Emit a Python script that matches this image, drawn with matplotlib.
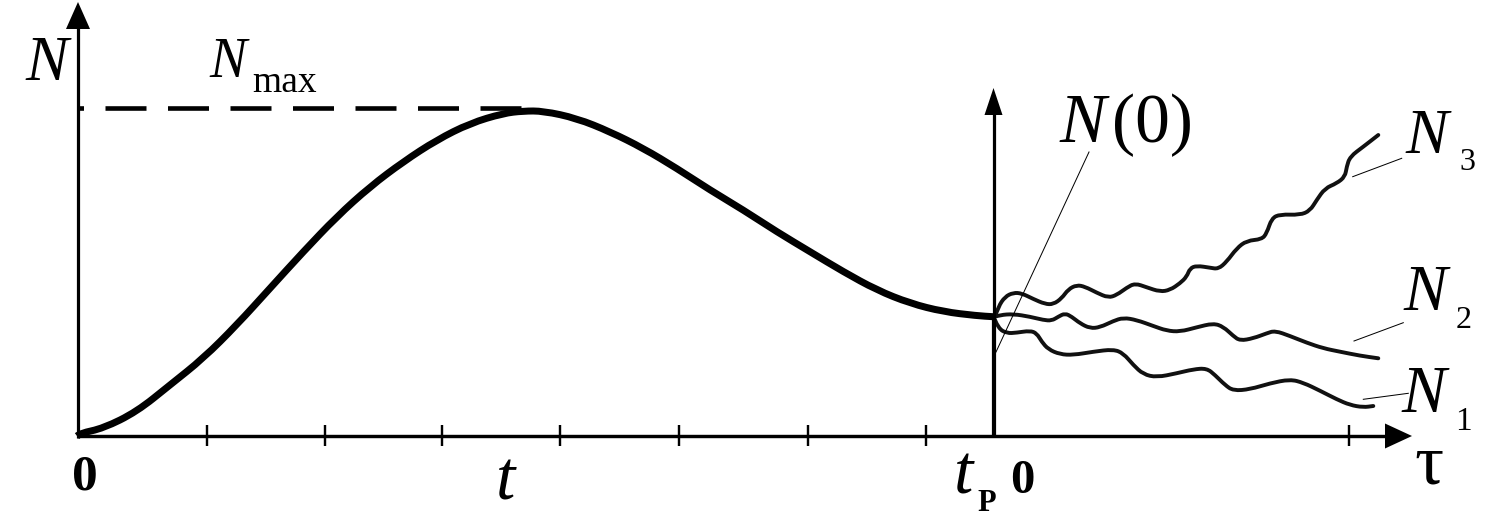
"""Schematic: N(t) rise to N_max, decay to t_P, then three noisy branches N1..N3."""

import matplotlib

matplotlib.use("Agg")
import matplotlib.pyplot as plt
import numpy as np
from matplotlib.patches import PathPatch, Polygon
from matplotlib.path import Path

plt.rcParams["font.family"] = ["Liberation Serif", "DejaVu Serif"]
plt.rcParams["lines.scale_dashes"] = False

W, H = 1512, 518
PT = 0.72  # points per pixel at dpi=100

# --- data (picture coordinates, y grows downward) ----------------------------
main_x = [77, 80, 103.3, 136.7, 170, 203.3, 236.7, 270, 303.3, 336.7, 370, 403.3,
          436.7, 470, 503.3, 523.3, 543.3, 576.7, 610, 643.3, 676.7, 710, 743.3,
          776.7, 810, 843.3, 876.7, 910, 943.3, 976.7, 993.3]
main_y = [436, 433.3, 428.3, 411.7, 385, 358.3, 325, 288.3, 251.7, 216.7, 186.7,
          161.7, 140, 123.3, 113.3, 111, 111, 118.3, 131.7, 148.3, 168.3, 190, 210,
          231.7, 251.7, 271.7, 290, 303.3, 311.7, 315.7, 316.7]

n3_x = [995.0, 998.3, 1005.0, 1013.3, 1021.7, 1033.3, 1045.0, 1053.3, 1061.7, 1068.3,
        1076.7, 1085.0, 1096.7, 1108.3, 1116.7, 1126.7, 1135.0, 1146.7, 1160.0, 1170.0,
        1180.0, 1186.7, 1190.0, 1196.7, 1210.0, 1218.3, 1226.7, 1236.7, 1246.7, 1261.7,
        1266.7, 1271.7, 1280.0, 1300.0, 1310.0, 1316.7, 1325.0, 1336.7, 1345.0, 1346.7,
        1350.0, 1363.3, 1378.3]
n3_y = [316.7, 306.7, 296.7, 292.7, 293.3, 299.0, 304.0, 304.3, 298.3, 289.3,
        285.0, 286.7, 292.7, 297.7, 295.0, 287.7, 283.3, 287.3, 291.7, 290.0,
        283.3, 276.7, 268.3, 265.7, 267.7, 269.0, 261.7, 248.3, 240.7, 239.3,
        233.3, 218.3, 214.3, 215.0, 210.7, 200.0, 188.3, 183.3, 176.7, 166.7,
        156.7, 146.7, 135.0]

n2_x = [995.0, 1000.0, 1013.3, 1030.0, 1043.3, 1051.7, 1058.3, 1065.0, 1071.7, 1080.0,
        1090.0, 1100.0, 1113.3, 1123.3, 1136.7, 1153.3, 1166.7, 1180.0, 1196.7, 1213.3,
        1223.3, 1233.3, 1240.0, 1253.3, 1266.7, 1275.0, 1290.0, 1306.7, 1323.3, 1340.0,
        1360.0, 1378.3]
n2_y = [316.7, 315.0, 314.0, 316.7, 320.0, 320.7, 316.7, 313.3, 316.7, 323.3,
        328.3, 327.3, 321.0, 317.7, 320.0, 326.0, 330.7, 331.7, 327.3, 323.3,
        326.7, 336.0, 340.7, 338.3, 333.3, 330.7, 336.0, 342.7, 348.3, 351.7,
        355.7, 358.3]

n1_x = [995.0, 998.3, 1006.7, 1016.7, 1030.0, 1036.7, 1041.7, 1048.3, 1060.0, 1073.3,
        1093.3, 1113.3, 1123.3, 1133.3, 1143.3, 1156.7, 1176.7, 1193.3, 1206.7, 1215.0,
        1225.0, 1233.3, 1250.0, 1270.0, 1290.0, 1303.3, 1320.0, 1336.7, 1350.0, 1363.3,
        1373.3]
n1_y = [320.0, 328.3, 333.3, 332.7, 330.7, 333.3, 341.7, 349.3, 354.3, 355.0,
        351.7, 349.3, 353.3, 365.0, 374.3, 377.3, 373.3, 369.3, 368.3, 375.0,
        385.0, 390.7, 389.3, 383.3, 379.3, 382.7, 390.7, 399.3, 405.0, 407.3,
        406.0]

tick_x = [207, 324.5, 442, 560, 679, 808, 926, 1349]

# leader lines: (x0, y0, x1, y1)
leaders = [(1089, 152, 996, 352),
           (1352.7, 176.7, 1401.7, 158.3),
           (1354, 341, 1403.3, 322.7),
           (1363.3, 399.3, 1408.3, 393.3)]


def smooth_path(xs, ys):
    """Quadratic B-spline through midpoints of the read points."""
    p = np.column_stack([xs, ys])
    verts = [p[0]]
    codes = [Path.MOVETO]
    for i in range(1, len(p) - 1):
        verts += [p[i], (p[i] + p[i + 1]) / 2]
        codes += [Path.CURVE3, Path.CURVE3]
    verts.append(p[-1])
    codes.append(Path.LINETO)
    return Path(verts, codes)


def arrow_head(ax, tip, direction, length, width):
    tip = np.asarray(tip, float)
    d = np.asarray(direction, float)
    d /= np.linalg.norm(d)
    n = np.array([-d[1], d[0]])
    base = tip - d * length
    ax.add_patch(Polygon([tip, base + n * width / 2, base - n * width / 2],
                         closed=True, color="k", lw=0))


fig = plt.figure(figsize=(W / 100, H / 100), dpi=100)
ax = fig.add_axes([0, 0, 1, 1])
ax.set_xlim(0, W)
ax.set_ylim(H, 0)
ax.axis("off")

x0, y0 = 78, 436  # origin
tp_x = 993.5

# axes
ax.plot([x0, x0], [y0 + 1.5, 20], color="k", lw=3.2 * PT, solid_capstyle="butt")
arrow_head(ax, (x0, 2), (0, -1), 27, 24)
ax.plot([x0 - 1.5, 1390], [y0, y0], color="k", lw=3.4 * PT, solid_capstyle="butt")
arrow_head(ax, (1412, y0), (1, 0), 27, 25)
ax.plot([tp_x, tp_x], [y0, 318], color="k", lw=4.2 * PT, solid_capstyle="butt")
ax.plot([tp_x, tp_x], [318, 105], color="k", lw=3.2 * PT, solid_capstyle="butt")
arrow_head(ax, (tp_x, 88), (0, -1), 27, 18)

for tx in tick_x:
    ax.plot([tx, tx], [425, 446], color="k", lw=2.4 * PT, solid_capstyle="butt")

# N_max dashed level
nmax_y = 107.7
ax.plot([x0, 521], [nmax_y, nmax_y], color="k", lw=4.6 * PT,
        linestyle=(35.5 * PT, (41 * PT, 21.5 * PT)), dash_capstyle="butt")

# curves
ax.add_patch(PathPatch(smooth_path(main_x, main_y), fill=False, lw=7.0 * PT,
                       color="k", capstyle="butt", joinstyle="round"))
for xs, ys in [(n3_x, n3_y), (n2_x, n2_y), (n1_x, n1_y)]:
    ax.add_patch(PathPatch(smooth_path(xs, ys), fill=False, lw=3.9 * PT,
                           color="#111111", capstyle="round", joinstyle="round"))

for lx0, ly0, lx1, ly1 in leaders:
    ax.plot([lx0, lx1], [ly0, ly1], color="k", lw=1.0 * PT)

# labels
it = dict(style="italic", color="k")
ax.text(47, 80, "N", fontsize=46, ha="center", va="baseline", **it)
ax.text(228, 77, "N", fontsize=40, ha="center", va="baseline", **it)
ax.text(252, 92, "max", fontsize=27, ha="left", va="baseline", color="k")

ax.text(1060, 142, "N", fontsize=50, ha="left", va="baseline", **it)
ax.text(1112, 142, "(0)", fontsize=50, ha="left", va="baseline", color="k")

ax.text(1405, 153, "N", fontsize=46, ha="left", va="baseline", **it)
ax.text(1459, 170, "3", fontsize=23, ha="left", va="baseline", color="k")
ax.text(1403, 310, "N", fontsize=47, ha="left", va="baseline", **it)
ax.text(1456, 328, "2", fontsize=23, ha="left", va="baseline", color="k")
ax.text(1401, 412, "N", fontsize=48, ha="left", va="baseline", **it)
ax.text(1455, 430, "1", fontsize=24, ha="left", va="baseline", color="k")

ax.text(85, 490, "0", fontsize=37, weight="bold", ha="center", va="baseline")
ax.text(506, 500, "t", fontsize=50, ha="center", va="baseline", **it)
ax.text(964, 493, "t", fontsize=50, ha="center", va="baseline", **it)
ax.text(977, 511, "P", fontsize=22, weight="bold", ha="left", va="baseline")
ax.text(1022, 493, "0", fontsize=35, weight="bold", ha="center", va="baseline")
ax.text(1429, 466, "τ", fontsize=52, ha="center", va="center", color="k")

fig.savefig("out.png", dpi=100)
